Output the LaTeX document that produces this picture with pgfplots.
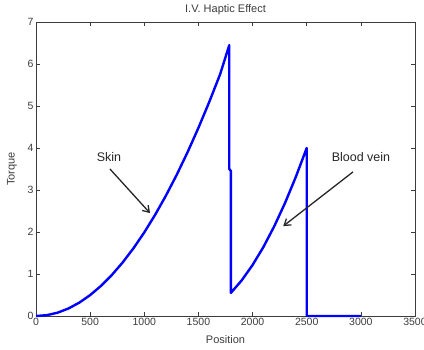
\documentclass[border=0pt]{standalone}
\usepackage{fontspec}
\setmainfont{Liberation Sans}
\usepackage{pgfplots}
\pgfplotsset{compat=1.18}
\usetikzlibrary{arrows.meta}
\definecolor{axgray}{RGB}{60,60,60}
\begin{document}
\begin{tikzpicture}[x=1pt,y=1pt]
\begin{axis}[
  at={(0,0)}, anchor=south west,
  scale only axis, width=379pt, height=294pt,
  xmin=0, xmax=3500, ymin=0, ymax=7,
  xtick={0,500,...,3500}, ytick={0,1,...,7},
  scaled ticks=false,
  /pgf/number format/1000 sep={},
  /pgf/number format/assume math mode=true,
  tick pos=both, tick align=inside,
  major tick length=4pt,
  axis line style={axgray, line width=0.6pt},
  tick style={axgray, line width=0.6pt},
  ticklabel style={font=\fontsize{10.5}{12}\selectfont, text=axgray},
  xticklabel style={yshift=1pt},
  yticklabel style={xshift=1pt},
  xlabel={Position},
  xlabel style={font=\fontsize{11}{13}\selectfont, text=axgray, at={(axis description cs:0.5,-0.0816)}, anchor=center},
  ylabel={Torque},
  ylabel style={font=\fontsize{11}{13}\selectfont, text=axgray, at={(axis description cs:-0.0633,0.5)}, anchor=center},
  clip=false,
]
\addplot[blue, line width=2.4pt, line join=round] coordinates {
  (0,0) (100,0.0199) (200,0.0796) (300,0.179) (400,0.3185) (500,0.4977)
  (600,0.7167) (700,0.9754) (800,1.274) (900,1.6125) (1000,1.9907)
  (1100,2.4087) (1200,2.8667) (1300,3.3643) (1400,3.9018) (1500,4.4792)
  (1600,5.0963) (1700,5.7531) (1785,6.45)
  (1785,3.5) (1800,3.45) (1800,0.55)
  (1900,0.850) (2000,1.214) (2100,1.642) (2200,2.135) (2300,2.692)
  (2400,3.315) (2500,4.0) (2500,0) (3000,0)
};
\node[font=\fontsize{11}{13}\selectfont, text=axgray, anchor=center] at (axis description cs:0.5,1.0408) {I.V. Haptic Effect};
\node[font=\fontsize{12.5}{14}\selectfont, text=black!85] at (axis cs:674,3.79) {Skin};
\draw[black!85, line width=1.3pt, -{Straight Barb[length=6pt,width=8pt]}] (axis cs:683,3.5) -- (axis cs:1053,2.45);
\node[font=\fontsize{12.5}{14}\selectfont, text=black!85] at (axis cs:3001,3.79) {Blood vein};
\draw[black!85, line width=1.3pt, -{Straight Barb[length=6pt,width=8pt]}] (axis cs:2927,3.43) -- (axis cs:2283,2.14);
\end{axis}
\pgfresetboundingbox
\path (-36pt,-33pt) rectangle (388pt,316pt);
\end{tikzpicture}
\end{document}
